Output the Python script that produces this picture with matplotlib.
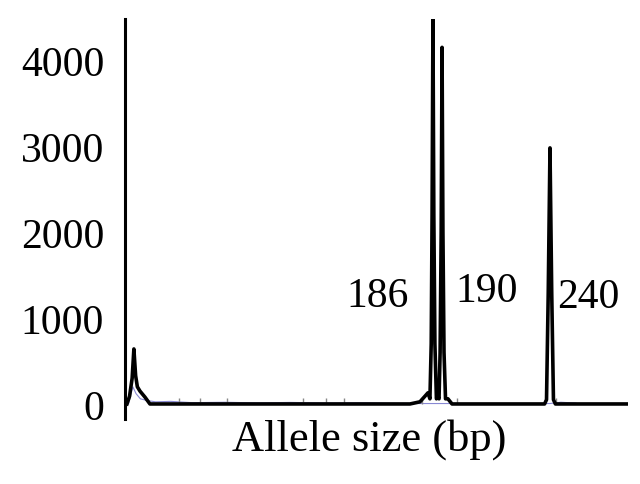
import matplotlib
matplotlib.use("Agg")
import matplotlib.pyplot as plt

# electropherogram trace (allele size in bp, signal in RFU)
trace_bp = [44.8, 46.0, 47.2, 48.0, 48.8, 49.6, 50.8, 53.1, 55.4,
            175.4, 180.0, 182.3, 183.7, 184.6, 185.2, 185.6, 186.0, 186.4, 186.9,
            187.6, 188.2, 188.8, 189.3, 189.8, 190.2, 190.6, 191.1, 191.8, 192.9, 194.8,
            237.5, 238.4, 239.2, 240.0, 240.8, 241.6, 242.5, 276.0]
trace_rfu = [0, 90, 300, 640, 330, 200, 150, 80, 0,
             0, 25, 90, 130, 60, 700, 2200, 4480, 2200, 700,
             60, 90, 60, 600, 2000, 4150, 2000, 600, 60, 60, 0,
             0, 50, 1300, 2980, 1300, 50, 0, 0]

# faint blue second dye channel near the baseline
blue_bp = [45.5, 47.5, 49.0, 51.0, 54.0, 58.0, 65.0, 75.0, 90.0, 105.0, 120.0,
           140.0, 155.0, 165.0, 175.0, 240.0, 245.0, 252.0]
blue_rfu = [0, 200, 120, 60, 40, 25, 30, 15, 20, 12, 18, 10, 14, 8, 5, 5, 20, 10]

# small size-standard marks along the baseline
marks_bp = [69.0, 78.5, 91.0, 126.0, 136.5, 145.0, 181.0, 197.0, 243.0]
mark_height = 70

peak_labels = ["186", "190", "240"]
label_bp = [160.6, 210.9, 257.5]
label_rfu = [1260, 1320, 1250]

yticks = [0, 1000, 2000, 3000, 4000]

fig = plt.figure(figsize=(6.4, 4.85), dpi=100)
ax = fig.add_axes([125 / 640, 1 - 420 / 485, 503 / 640, 400 / 485])

ax.plot(blue_bp, blue_rfu, color="#6b6bc8", lw=0.8, alpha=0.8)
ax.vlines(marks_bp, 0, mark_height, color="#888888", lw=1.0)
ax.plot(trace_bp, trace_rfu, color="black", lw=2.6, solid_joinstyle="round")

ax.set_xlim(43.9, 276)
ax.set_ylim(-175, 4480)

for s in ["top", "right", "bottom"]:
    ax.spines[s].set_visible(False)
ax.spines["left"].set_linewidth(2.2)

ax.set_xticks([])
ax.set_yticks(yticks)
ax.set_yticklabels([str(v) for v in yticks], family="Liberation Serif", fontsize=30)
ax.tick_params(axis="y", length=0, pad=15)

for t, x, y in zip(peak_labels, label_bp, label_rfu):
    ax.text(x, y, t, family="Liberation Serif", fontsize=30, ha="center", va="center")

fig.text(369 / 640, 1 - 440 / 485, "Allele size (bp)", family="Liberation Serif",
         fontsize=32, ha="center", va="center")

fig.savefig("out.png", dpi=100)
